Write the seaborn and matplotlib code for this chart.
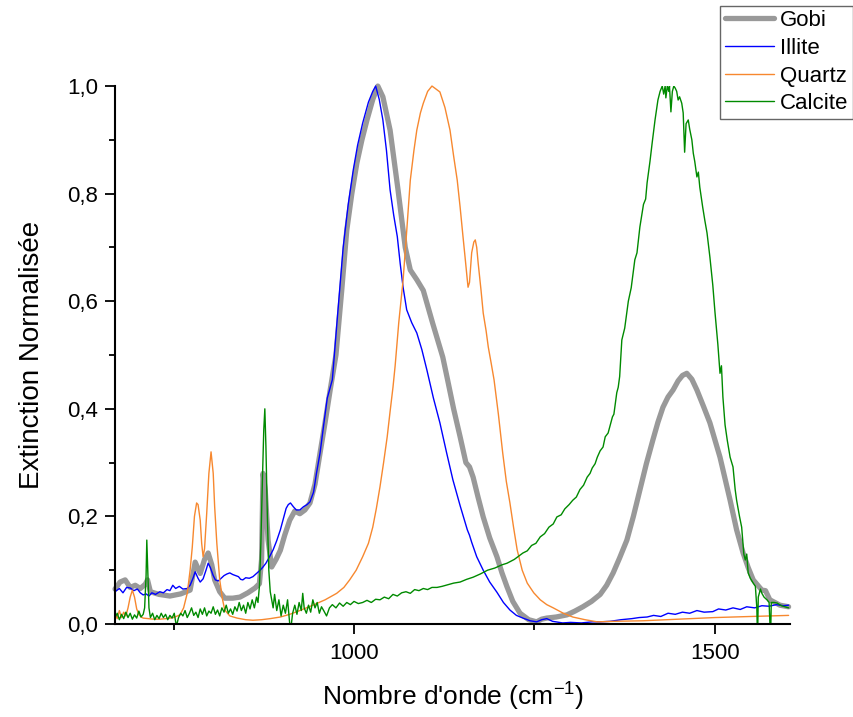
import matplotlib
matplotlib.use("Agg")
import matplotlib.pyplot as plt
from matplotlib.ticker import MultipleLocator, FuncFormatter
import seaborn as sns

# wavenumber (cm-1) / normalised extinction
gobi_x = [669, 676, 683, 690, 697, 704, 711, 714, 718, 730, 745, 760, 773, 780, 787, 793, 798, 803,
          807, 814, 821, 832, 842, 853, 863, 869, 872, 874, 877, 881, 886, 892, 898, 904, 911, 918,
          925, 932, 939, 946, 953, 960, 967, 975, 983, 990, 997, 1004, 1011, 1018, 1026, 1033, 1040,
          1050, 1061, 1071, 1078, 1087, 1096, 1109, 1123, 1129, 1138, 1147, 1155, 1160, 1165, 1172,
          1179, 1188, 1198, 1205, 1212, 1220, 1230, 1242, 1253, 1260, 1267, 1280, 1295, 1306, 1317,
          1329, 1341, 1350, 1359, 1368, 1378, 1387, 1396, 1405, 1414, 1421, 1428, 1435, 1442, 1449,
          1455, 1461, 1468, 1475, 1484, 1493, 1500, 1507, 1514, 1521, 1530, 1539, 1546, 1553, 1565,
          1570, 1576, 1590, 1602]
gobi_y = [0.065, 0.078, 0.082, 0.068, 0.072, 0.066, 0.074, 0.082, 0.06, 0.055, 0.052, 0.056, 0.063,
          0.115, 0.094, 0.12, 0.132, 0.11, 0.082, 0.06, 0.048, 0.048, 0.05, 0.058, 0.067, 0.075, 0.12,
          0.28, 0.25, 0.156, 0.106, 0.12, 0.137, 0.165, 0.193, 0.21, 0.205, 0.212, 0.225, 0.26, 0.318,
          0.375, 0.435, 0.5, 0.62, 0.732, 0.80, 0.857, 0.90, 0.937, 0.975, 1.0, 0.98, 0.918, 0.807,
          0.70, 0.658, 0.64, 0.62, 0.559, 0.496, 0.458, 0.40, 0.348, 0.3, 0.292, 0.273, 0.235, 0.199,
          0.16, 0.125, 0.095, 0.069, 0.042, 0.02, 0.008, 0.004, 0.009, 0.011, 0.013, 0.017, 0.024,
          0.032, 0.042, 0.055, 0.072, 0.095, 0.123, 0.156, 0.2, 0.249, 0.298, 0.342, 0.375, 0.403,
          0.422, 0.435, 0.452, 0.462, 0.466, 0.455, 0.435, 0.405, 0.374, 0.342, 0.31, 0.27, 0.23,
          0.175, 0.132, 0.105, 0.082, 0.063, 0.062, 0.045, 0.035, 0.032]

illite_x = [669, 675, 680, 685, 690, 695, 700, 704, 708, 712, 716, 720, 725, 731, 736, 741, 745, 749,
            753, 758, 763, 769, 773, 777, 780, 784, 787, 791, 795, 798, 801, 805, 808, 812, 816, 820,
            824, 828, 832, 836, 840, 843, 846, 850, 855, 860, 865, 870, 874, 878, 883, 888, 893, 898,
            902, 906, 909, 912, 916, 920, 925, 930, 935, 939, 944, 948, 953, 958, 963, 970, 977, 985,
            992, 999, 1005, 1012, 1020, 1026, 1030, 1035, 1040, 1045, 1050, 1055, 1060, 1064, 1068,
            1073, 1080, 1087, 1094, 1101, 1110, 1119, 1128, 1137, 1147, 1157, 1160, 1163, 1170, 1179,
            1188, 1198, 1207, 1216, 1225, 1234, 1244, 1253, 1260, 1267, 1275, 1289, 1300, 1315, 1330,
            1341, 1355, 1370, 1385, 1395, 1406, 1415, 1425, 1435, 1445, 1455, 1465, 1475, 1485, 1497,
            1505, 1515, 1525, 1535, 1544, 1555, 1565, 1575, 1585, 1595, 1602]
illite_y = [0.06, 0.066, 0.058, 0.068, 0.067, 0.062, 0.065, 0.058, 0.054, 0.056, 0.052, 0.058, 0.055,
            0.06, 0.058, 0.064, 0.062, 0.072, 0.066, 0.07, 0.065, 0.066, 0.072, 0.085, 0.097, 0.085,
            0.078, 0.084, 0.1, 0.113, 0.105, 0.09, 0.082, 0.08, 0.085, 0.09, 0.093, 0.095, 0.092, 0.09,
            0.088, 0.083, 0.082, 0.086, 0.085, 0.088, 0.094, 0.1, 0.106, 0.113, 0.125, 0.138, 0.155,
            0.175, 0.195, 0.215, 0.222, 0.225, 0.218, 0.212, 0.212, 0.218, 0.222, 0.227, 0.245, 0.28,
            0.318, 0.37, 0.42, 0.454, 0.57, 0.70, 0.78, 0.844, 0.89, 0.931, 0.97, 0.99, 1.0, 0.975,
            0.937, 0.88, 0.807, 0.76, 0.72, 0.67, 0.626, 0.584, 0.56, 0.541, 0.51, 0.472, 0.42, 0.374,
            0.32, 0.268, 0.22, 0.175, 0.165, 0.152, 0.125, 0.1, 0.078, 0.059, 0.04, 0.026, 0.016, 0.011,
            0.006, 0.004, 0.008, 0.01, 0.005, 0.002, 0.003, 0.002, 0.004, 0.004, 0.005, 0.008, 0.01,
            0.012, 0.013, 0.016, 0.014, 0.02, 0.018, 0.022, 0.02, 0.025, 0.022, 0.023, 0.028, 0.026,
            0.03, 0.027, 0.032, 0.03, 0.034, 0.033, 0.036, 0.034, 0.035]

quartz_x = [669, 672, 675, 678, 681, 684, 687, 690, 693, 696, 699, 702, 705, 708, 715, 722, 731, 740,
            750, 759, 764, 769, 773, 776, 779, 782, 784, 787, 789, 791, 793, 796, 799, 802, 805, 807,
            810, 814, 818, 821, 828, 838, 850, 860, 872, 884, 898, 911, 925, 943, 960, 976, 986, 994,
            1003, 1012, 1020, 1026, 1031, 1036, 1041, 1046, 1050, 1054, 1057, 1062, 1068, 1073, 1078,
            1083, 1087, 1092, 1096, 1102, 1108, 1113, 1119, 1126, 1133, 1138, 1143, 1147, 1151, 1154,
            1157, 1158, 1160, 1163, 1166, 1168, 1170, 1172, 1176, 1179, 1183, 1186, 1190, 1194, 1200,
            1206, 1211, 1216, 1221, 1226, 1233, 1240, 1249, 1258, 1267, 1276, 1290, 1303, 1320, 1337,
            1360, 1400, 1450, 1500, 1550, 1602]
quartz_y = [0.02, 0.01, 0.025, 0.012, 0.022, 0.015, 0.03, 0.05, 0.063, 0.05, 0.028, 0.018, 0.013,
            0.011, 0.01, 0.009, 0.009, 0.01, 0.012, 0.017, 0.03, 0.057, 0.1, 0.143, 0.2, 0.225, 0.222,
            0.193, 0.15, 0.125, 0.14, 0.206, 0.28, 0.32, 0.28, 0.218, 0.15, 0.082, 0.045, 0.026, 0.015,
            0.011, 0.008, 0.007, 0.008, 0.01, 0.013, 0.018, 0.025, 0.035, 0.045, 0.057, 0.068, 0.082,
            0.1, 0.125, 0.15, 0.18, 0.215, 0.255, 0.3, 0.348, 0.395, 0.44, 0.48, 0.56, 0.639, 0.73,
            0.825, 0.88, 0.918, 0.95, 0.968, 0.99, 1.0, 0.995, 0.989, 0.96, 0.918, 0.87, 0.825, 0.775,
            0.72, 0.68, 0.639, 0.626, 0.635, 0.69, 0.71, 0.714, 0.7, 0.671, 0.62, 0.578, 0.545, 0.515,
            0.485, 0.454, 0.39, 0.318, 0.265, 0.225, 0.18, 0.138, 0.1, 0.076, 0.058, 0.045, 0.036, 0.03,
            0.02, 0.013, 0.008, 0.004, 0.005, 0.006, 0.009, 0.012, 0.014, 0.016]

# calcite kept as (wavenumber, extinction) pairs: it is long and noisy
calcite_pts = [
    (669, 0.012), (672, 0.02), (675, 0.008), (678, 0.018), (681, 0.01), (684, 0.022), (687, 0.012),
    (690, 0.02), (693, 0.009), (696, 0.017), (699, 0.011), (702, 0.024), (705, 0.013), (708, 0.018),
    (710, 0.03), (712, 0.09), (713, 0.156), (714.5, 0.09), (716, 0.03), (718, 0.012), (721, 0.02),
    (724, 0.008), (727, 0.016), (730, 0.01), (733, 0.02), (736, 0.012), (739, 0.018), (742, 0.008),
    (745, 0.016), (748, 0.011), (751, 0.02), (754, -0.004), (757, 0.012), (760, 0.02), (763, 0.015),
    (766, 0.025), (769, 0.012), (772, 0.02), (775, 0.03), (778, 0.016), (781, 0.022), (784, 0.012),
    (787, 0.028), (790, 0.018), (793, 0.03), (796, 0.015), (799, 0.024), (802, 0.02), (805, 0.032),
    (808, 0.018), (811, 0.026), (814, 0.015), (817, 0.03), (820, 0.022), (823, 0.035), (826, 0.02),
    (829, 0.028), (832, 0.018), (835, 0.032), (838, 0.024), (841, 0.04), (844, 0.025), (847, 0.035),
    (850, 0.02), (853, 0.04), (856, 0.028), (859, 0.045), (862, 0.03), (865, 0.05), (867, 0.04),
    (869, 0.07), (871, 0.15), (873, 0.26), (875, 0.36), (876.5, 0.40), (878, 0.33), (880, 0.2),
    (882, 0.1), (884, 0.06), (886, 0.045), (888, 0.03), (890, 0.055), (893, 0.025), (896, 0.045),
    (899, 0.015), (902, 0.035), (905, 0.02), (908, 0.045), (911, 0.0), (913, -0.003), (915, 0.02),
    (918, 0.035), (921, 0.018), (924, 0.04), (927, 0.025), (929, 0.057), (931, 0.03), (934, 0.02),
    (937, 0.035), (940, 0.022), (943, 0.045), (946, 0.03), (949, 0.04), (952, 0.02), (955, 0.032),
    (958, 0.025), (962, 0.015), (966, 0.03), (970, 0.036), (975, 0.03), (980, 0.039), (985, 0.033),
    (990, 0.04), (995, 0.036), (1000, 0.042), (1006, 0.038), (1012, 0.04), (1018, 0.044),
    (1024, 0.04), (1030, 0.046), (1036, 0.045), (1042, 0.05), (1048, 0.047), (1054, 0.055),
    (1060, 0.052), (1066, 0.058), (1072, 0.06), (1078, 0.057), (1084, 0.064), (1090, 0.062),
    (1096, 0.066), (1102, 0.064), (1108, 0.068), (1115, 0.068), (1122, 0.07), (1130, 0.073),
    (1138, 0.076), (1147, 0.078), (1156, 0.083), (1165, 0.087), (1175, 0.093), (1185, 0.1),
    (1195, 0.104), (1205, 0.11), (1212, 0.113), (1222, 0.12), (1234, 0.132), (1240, 0.136),
    (1246, 0.146), (1252, 0.15), (1258, 0.162), (1264, 0.168), (1270, 0.18), (1276, 0.186),
    (1281, 0.199), (1287, 0.203), (1292, 0.214), (1298, 0.222), (1303, 0.23), (1308, 0.236),
    (1313, 0.25), (1318, 0.258), (1323, 0.273), (1327, 0.28), (1330, 0.29), (1334, 0.298),
    (1337, 0.31), (1341, 0.322), (1345, 0.329), (1348, 0.348), (1352, 0.355), (1355, 0.37),
    (1358, 0.385), (1360, 0.39), (1362, 0.41), (1364, 0.43), (1366, 0.44), (1368, 0.46),
    (1371, 0.528), (1375, 0.55), (1380, 0.6), (1384, 0.625), (1389, 0.677), (1392, 0.69),
    (1396, 0.738), (1401, 0.78), (1404, 0.79), (1406, 0.82), (1410, 0.86), (1413, 0.894),
    (1417, 0.937), (1421, 0.974), (1424, 0.99), (1427, 1.0), (1429, 0.985), (1431, 1.0),
    (1432, 0.978), (1434, 1.0), (1436, 0.99), (1437, 1.0), (1439, 0.952), (1441, 0.99), (1443, 1.0),
    (1445, 0.996), (1447, 0.99), (1449, 0.974), (1451, 0.98), (1454, 0.968), (1456, 0.95),
    (1458, 0.877), (1460, 0.93), (1463, 0.937), (1465, 0.92), (1468, 0.9), (1470, 0.875),
    (1472, 0.86), (1475, 0.831), (1477, 0.84), (1479, 0.812), (1483, 0.775), (1486, 0.75),
    (1489, 0.727), (1493, 0.682), (1497, 0.63), (1500, 0.58), (1504, 0.52), (1507, 0.466),
    (1509, 0.48), (1511, 0.422), (1514, 0.37), (1517, 0.342), (1521, 0.31), (1525, 0.292),
    (1528, 0.25), (1530, 0.23), (1534, 0.2), (1537, 0.18), (1540, 0.13), (1542, 0.119), (1544, 0.13),
    (1546, 0.095), (1549, 0.085), (1553, 0.076), (1556, 0.07), (1558, 0.03), (1559, -0.03),
    (1560, 0.05), (1563, 0.065), (1565, 0.057), (1568, 0.05), (1572, 0.045), (1575, 0.04),
    (1577, -0.03), (1578, 0.04), (1582, 0.04), (1586, 0.039), (1592, 0.034), (1597, 0.032),
    (1602, 0.03),
]
calcite_x = [p[0] for p in calcite_pts]
calcite_y = [p[1] for p in calcite_pts]

sns.set_style("ticks")
plt.rcParams["font.family"] = ["Liberation Sans", "DejaVu Sans"]
plt.rcParams["mathtext.default"] = "regular"
plt.rcParams["text.color"] = "black"
plt.rcParams["axes.labelcolor"] = "black"
plt.rcParams["xtick.color"] = "black"
plt.rcParams["ytick.color"] = "black"

fig = plt.figure(figsize=(8.54, 7.17), dpi=100)
ax = fig.add_axes([0.1347, 0.1297, 0.7904, 0.7503])

sns.lineplot(x=gobi_x, y=gobi_y, ax=ax, color="#999999", lw=3.8, estimator=None, label="Gobi")
sns.lineplot(x=illite_x, y=illite_y, ax=ax, color="#0000ff", lw=1.0, estimator=None, label="Illite")
sns.lineplot(x=quartz_x, y=quartz_y, ax=ax, color="#f7882f", lw=1.0, estimator=None, label="Quartz")
sns.lineplot(x=calcite_x, y=calcite_y, ax=ax, color="#008a00", lw=1.0, estimator=None, label="Calcite")
for ln in ax.lines[:3]:
    ln.set_clip_on(False)

ax.set_xlim(669, 1604)
ax.set_ylim(0, 1.0)
ax.xaxis.set_major_locator(MultipleLocator(500))
ax.xaxis.set_minor_locator(MultipleLocator(250))
ax.yaxis.set_major_locator(MultipleLocator(0.2))
ax.yaxis.set_minor_locator(MultipleLocator(0.1))
ax.yaxis.set_major_formatter(FuncFormatter(lambda v, p: f"{v:.1f}".replace(".", ",")))
ax.tick_params(which="major", length=7, width=1.3, labelsize=16, colors="black", pad=5)
ax.tick_params(axis="x", which="major", pad=7)
ax.tick_params(which="minor", length=4, width=1.3, color="black")
for s in ["left", "bottom"]:
    ax.spines[s].set_linewidth(1.5)
    ax.spines[s].set_color("black")
sns.despine(ax=ax)

ax.set_xlabel("Nombre d'onde (cm$^{-1}$)", fontsize=19, labelpad=12, color="black")
ax.set_ylabel("Extinction Normalisée", fontsize=20, labelpad=16, color="black")

leg = ax.legend(loc="upper right", bbox_to_anchor=(0.999, 0.992), bbox_transform=fig.transFigure,
                fontsize=16, frameon=True, fancybox=False, edgecolor="#666666", framealpha=1,
                handlelength=2.2, labelspacing=0.3, borderpad=0.2, handletextpad=0.3,
                borderaxespad=0)
for t in leg.get_texts():
    t.set_color("black")

fig.savefig("out.png", dpi=100)
